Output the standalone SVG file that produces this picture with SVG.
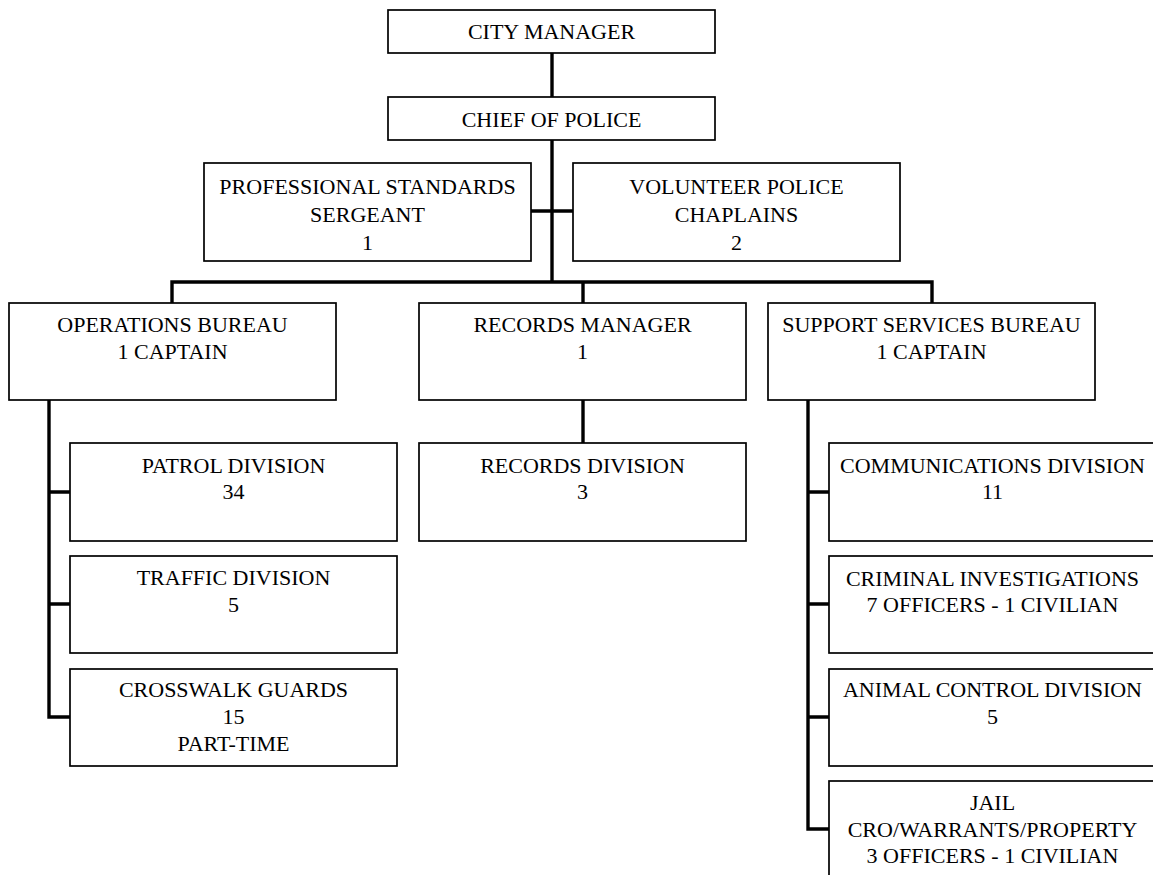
<svg xmlns="http://www.w3.org/2000/svg" width="1153" height="875" viewBox="0 0 1153 875">
<style>
.box{fill:#fff;stroke:#000;stroke-width:1.7}
.t{font-family:'Liberation Serif','DejaVu Serif',serif;font-size:22px;fill:#000;text-anchor:middle}
.c{fill:none;stroke:#000;stroke-width:3.4;stroke-linecap:butt;stroke-linejoin:miter}
</style>
<rect width="1153" height="875" fill="#fff"/>
<g id="connectors">
<path class="c" d="M552 53V97"/>
<path class="c" d="M552 140V282"/>
<path class="c" d="M531 211H573"/>
<path class="c" d="M172 303V282H932V303"/>
<path class="c" d="M583 282V303"/>
<path class="c" d="M583 400V443"/>
<path class="c" d="M49 400V717H70M49 492H70M49 604H70"/>
<path class="c" d="M808 400V829H829M808 492H829M808 604H829M808 717H829"/>
</g>
<g id="city-manager"><rect class="box" x="388" y="10" width="327" height="43"/><text class="t" font-family="Liberation Serif, serif" x="551.5" y="39">CITY MANAGER</text></g>
<g id="chief"><rect class="box" x="388" y="97" width="327" height="43"/><text class="t" x="551.5" y="127">CHIEF OF POLICE</text></g>
<g id="prof-standards"><rect class="box" x="204" y="163" width="327" height="98"/><text class="t" x="367.5" y="194">PROFESSIONAL STANDARDS</text><text class="t" x="367.5" y="222">SERGEANT</text><text class="t" x="367.5" y="250">1</text></g>
<g id="chaplains"><rect class="box" x="573" y="163" width="327" height="98"/><text class="t" x="736.5" y="194">VOLUNTEER POLICE</text><text class="t" x="736.5" y="222">CHAPLAINS</text><text class="t" x="736.5" y="250">2</text></g>
<g id="operations"><rect class="box" x="9" y="303" width="327" height="97"/><text class="t" x="172.5" y="332">OPERATIONS BUREAU</text><text class="t" x="172.5" y="359">1 CAPTAIN</text></g>
<g id="records-manager"><rect class="box" x="419" y="303" width="327" height="97"/><text class="t" x="582.5" y="332">RECORDS MANAGER</text><text class="t" x="582.5" y="359">1</text></g>
<g id="support"><rect class="box" x="768" y="303" width="327" height="97"/><text class="t" x="931.5" y="332">SUPPORT SERVICES BUREAU</text><text class="t" x="931.5" y="359">1 CAPTAIN</text></g>
<g id="patrol"><rect class="box" x="70" y="443" width="327" height="98"/><text class="t" x="233.5" y="473">PATROL DIVISION</text><text class="t" x="233.5" y="499">34</text></g>
<g id="traffic"><rect class="box" x="70" y="556" width="327" height="97"/><text class="t" x="233.5" y="585">TRAFFIC DIVISION</text><text class="t" x="233.5" y="612">5</text></g>
<g id="crosswalk"><rect class="box" x="70" y="669" width="327" height="97"/><text class="t" x="233.5" y="697">CROSSWALK GUARDS</text><text class="t" x="233.5" y="724">15</text><text class="t" x="233.5" y="751">PART-TIME</text></g>
<g id="records-division"><rect class="box" x="419" y="443" width="327" height="98"/><text class="t" x="582.5" y="473">RECORDS DIVISION</text><text class="t" x="582.5" y="499">3</text></g>
<g id="communications"><rect class="box" x="829" y="443" width="327" height="98"/><text class="t" x="992.5" y="473">COMMUNICATIONS DIVISION</text><text class="t" x="992.5" y="499">11</text></g>
<g id="criminal"><rect class="box" x="829" y="556" width="327" height="97"/><text class="t" x="992.5" y="586">CRIMINAL INVESTIGATIONS</text><text class="t" x="992.5" y="612">7 OFFICERS - 1 CIVILIAN</text></g>
<g id="animal"><rect class="box" x="829" y="669" width="327" height="97"/><text class="t" x="992.5" y="697">ANIMAL CONTROL DIVISION</text><text class="t" x="992.5" y="724">5</text></g>
<g id="jail"><rect class="box" x="829" y="781" width="327" height="98"/><text class="t" x="992.5" y="810">JAIL</text><text class="t" x="992.5" y="837">CRO/WARRANTS/PROPERTY</text><text class="t" x="992.5" y="863">3 OFFICERS - 1 CIVILIAN</text></g>
</svg>
